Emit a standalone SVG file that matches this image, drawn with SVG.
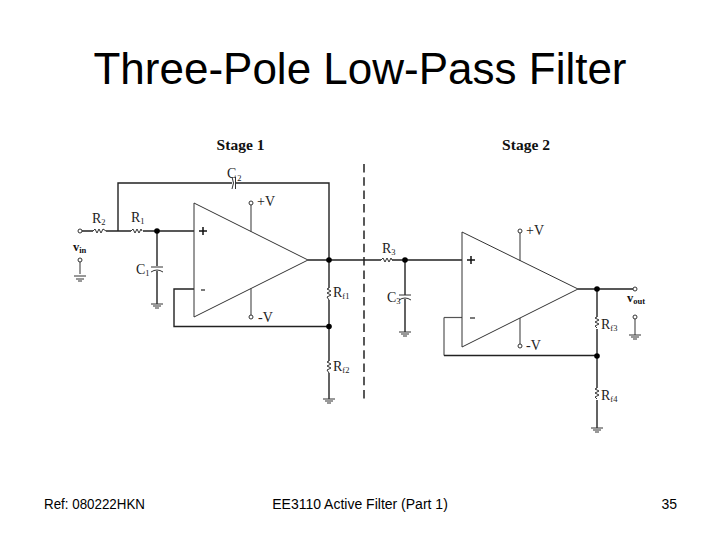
<svg xmlns="http://www.w3.org/2000/svg" width="720" height="540" viewBox="0 0 720 540">
<style>
.w{fill:none;stroke:#222;stroke-width:1.4}
.g{fill:none;stroke:#555;stroke-width:1.2}
.t{fill:none;stroke:#333;stroke-width:1}
.o{fill:#fff;stroke:#333;stroke-width:1}
.d{fill:#000}
.s{font-family:"Liberation Serif",serif;fill:#222;font-size:14px}
.b{font-family:"Liberation Serif",serif;fill:#111;font-size:15.5px;font-weight:bold}
.v{font-family:"Liberation Serif",serif;fill:#111;font-size:12.5px;font-weight:bold}
.u{font-size:8.5px}
.f{font-family:"Liberation Sans",sans-serif;fill:#000;font-size:14px}
</style>
<rect width="720" height="540" fill="#fff"/>
<text x="360" y="84" text-anchor="middle" style="font-family:'Liberation Sans',sans-serif;font-size:44px" fill="#000">Three-Pole Low-Pass Filter</text>
<text x="44" y="509" class="f" textLength="101" lengthAdjust="spacingAndGlyphs">Ref: 080222HKN</text>
<text x="360" y="509" text-anchor="middle" class="f">EE3110 Active Filter (Part 1)</text>
<text x="677" y="509" text-anchor="end" class="f">35</text>
<text x="240.500" y="150" text-anchor="middle" class="b">Stage 1</text>
<text x="526" y="150" text-anchor="middle" class="b">Stage 2</text>
<g id="connectors">
<path class="w" d="M82 231H93M106 231H131M143 231H194M118 231V183H232M236 183H329V260M308 260H381M392 260H462M329 260V288M329 300V361M329 373V399M157 231V266M157 271V304M194 289H174V326.500H329"/>
<path class="g" d="M444 317.500H462"/>
<path class="g" d="M444 317.500V355.500"/>
<path class="w" d="M405 260V295M405 299V332M444 355.500H597M578 289H633M597 289V317M597 329V388M597 400V428"/>
<path class="g" d="M251 205V231.500M251 288.500V315M520 233V261M520 318V344M80 262V274M635 319V335"/>
<path d="M364 164V403" fill="none" stroke="#222" stroke-width="1.5" stroke-dasharray="8.500 4.800"/>
</g>
<g id="stage-1">
<path class="t" d="M194 203V317L308 260Z"/>
<path d="M199 231H207M203 227V235" stroke="#111" stroke-width="1.5" fill="none"/>
<path d="M201 290H205" stroke="#222" stroke-width="1.2"/>
<text x="257" y="206" class="s">+V</text>
<text x="258" y="322" class="s">-V</text>
<circle class="o" cx="251" cy="203" r="2"/>
<circle class="o" cx="251" cy="317" r="2"/>
<circle class="d" cx="157" cy="231" r="2.800"/>
<circle class="d" cx="329" cy="260" r="2.800"/>
<circle class="d" cx="329" cy="326.500" r="2.800"/>
<circle class="o" cx="80" cy="231" r="2"/>
<circle class="o" cx="80" cy="260" r="2"/>
</g>
<g id="passives-1">
<path class="t" d="M93 231l2-2 2 4 2-4 2 4 2-4 3 2M131 231l2-2 2 4 2-4 2 4 2-4 1 2"/>
<path class="t" d="M329 288l-2 1 4 2-4 2 4 2-4 2 2 3M329 361l-2 1 4 2-4 2 4 2-4 2 2 3"/>
<path class="t" d="M235.500 177V189M232 177Q235 183 232 189M151 267H163M151 272Q157 268 163 272M74 276H86M76 279H84M78 281H82M151 304H163M153 306H161M155 308H159M323 399H335M325 401H333M327 403H331"/>
<text x="92" y="223" class="s">R<tspan class="u" dy="2">2</tspan></text>
<text x="131" y="222" class="s">R<tspan class="u" dy="2">1</tspan></text>
<text x="227" y="178" class="s">C<tspan class="u" dy="3" dx="1">2</tspan></text>
<text x="136" y="274" class="s">C<tspan class="u" dy="2">1</tspan></text>
<text x="333" y="297" class="s">R<tspan class="u" dy="2">f1</tspan></text>
<text x="333" y="371" class="s">R<tspan class="u" dy="2">f2</tspan></text>
<text x="73" y="251" class="v">v<tspan class="u" dy="2">in</tspan></text>
</g>
<g id="stage-2">
<path class="t" d="M462 232V347L578 289Z"/>
<path d="M467 260H475M471 256V264" stroke="#111" stroke-width="1.5" fill="none"/>
<path d="M470 318H475" stroke="#222" stroke-width="1.2"/>
<text x="526" y="235" class="s">+V</text>
<text x="526" y="350" class="s">-V</text>
<circle class="o" cx="520" cy="231" r="2"/>
<circle class="o" cx="520" cy="346" r="2"/>
<circle class="d" cx="405" cy="260" r="2.800"/>
<circle class="d" cx="597" cy="289" r="2.800"/>
<circle class="d" cx="597" cy="356" r="2.800"/>
<circle class="o" cx="635" cy="289" r="2"/>
<circle class="o" cx="635" cy="317" r="2"/>
</g>
<g id="passives-2">
<path class="t" d="M381 260l2-2 2 4 2-4 2 4 2-4 1 2"/>
<path class="t" d="M597 317l-2 1 4 2-4 2 4 2-4 2 2 2M597 388l-2 1 4 2-4 2 4 2-4 2 2 2"/>
<path class="t" d="M399 295H411M399 300Q405 296 411 300M399 332H411M401 334H409M403 336H407M629 335H641M631 337H639M633 339H637M591 428H603M593 430H601M595 432H599"/>
<text x="382" y="253" class="s">R<tspan class="u" dy="2">3</tspan></text>
<text x="387" y="302" class="s">C<tspan class="u" dy="2">3</tspan></text>
<text x="601" y="329" class="s">R<tspan class="u" dy="2">f3</tspan></text>
<text x="601" y="400" class="s">R<tspan class="u" dy="2">f4</tspan></text>
<text x="627" y="302" class="v">v<tspan class="u" dy="2">out</tspan></text>
</g>
</svg>
